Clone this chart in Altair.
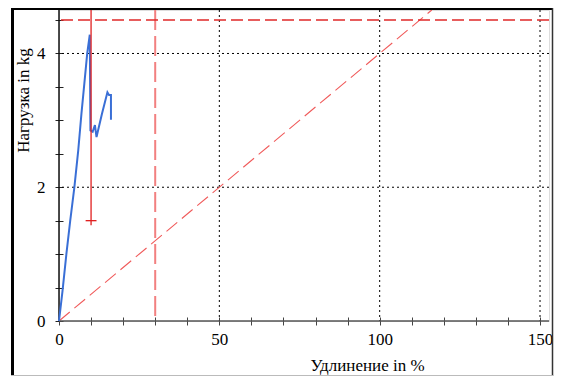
import altair as alt
import pandas as pd

# Measured curve (elongation %, load kg)
curve_x = [0, 1.1, 2.3, 3.5, 4.8, 6.0, 7.0, 7.9, 8.8, 9.6, 9.8, 10.5, 11.2, 11.7, 13.4, 15.1, 15.6, 16.2, 16.2]
curve_y = [0, 0.45, 1.0, 1.5, 2.0, 2.55, 3.1, 3.55, 4.0, 4.28, 2.85, 2.83, 2.93, 2.75, 3.1, 3.42, 3.38, 3.38, 3.01]

x_ticks = list(range(0, 151, 10))
x_labels = [0, 50, 100, 150]
y_ticks = [0, 0.5, 1, 1.5, 2, 2.5, 3, 3.5, 4, 4.5]
y_labels = [0, 2, 4]
grid_x = [50, 100, 150]
grid_y = [2, 4]

x_max = 152.8
y_max = 4.65

limit_load = [4.5]          # horizontal dashed limit
limit_elong = [30]          # vertical dashed limit
diag_x = [0, 116.25]        # reference line (0.04 kg per %)
diag_y = [0, 4.65]
marker_x = [10]             # vertical marker line
marker_y0 = [1.43]
marker_cap_x = [8.3, 11.7]
marker_cap_y = [1.5]

W, H = 490, 311
FONT = "Liberation Serif, Times New Roman, serif"

xs = alt.Scale(domain=[0, x_max], nice=False, zero=False)
ys = alt.Scale(domain=[0, y_max], nice=False, zero=False)

x_axis = alt.Axis(values=x_ticks,
                  labelExpr="datum.value % 50 == 0 ? format(datum.value, 'd') : ''",
                  grid=False, domain=False, offset=-4, tickSize=8, tickColor="#444",
                  labelFont=FONT, labelFontSize=17, labelColor="black", labelPadding=6,
                  labelFlush=False, labelOverlap=False,
                  title="Удлинение in %", titleFont=FONT, titleFontSize=17,
                  titleFontWeight="normal", titleColor="black",
                  titleX=308, titleY=48, titleAlign="center", titleBaseline="middle")
y_axis = alt.Axis(values=y_ticks,
                  labelExpr="datum.value % 2 == 0 ? format(datum.value, 'd') : ''",
                  grid=False, domain=False, offset=-4, tickSize=8, tickColor="#222",
                  labelFont=FONT, labelFontSize=17, labelColor="black", labelPadding=10,
                  labelFlush=False, labelOverlap=False,
                  title="Нагрузка in kg", titleFont=FONT, titleFontSize=17,
                  titleFontWeight="normal", titleColor="black",
                  titleX=-40, titleY=90, titleAngle=270, titleAlign="center", titleBaseline="middle")


def X(field):
    return alt.X(field, type="quantitative", scale=xs, axis=x_axis)


def Y(field):
    return alt.Y(field, type="quantitative", scale=ys, axis=y_axis)


curve = pd.DataFrame({"x": curve_x, "y": curve_y, "i": range(len(curve_x))})

grid_v = alt.Chart(pd.DataFrame({"x": grid_x})).mark_rule(
    color="black", strokeWidth=1, strokeDash=[2, 3]).encode(x=X("x"))
grid_h = alt.Chart(pd.DataFrame({"y": grid_y})).mark_rule(
    color="black", strokeWidth=1, strokeDash=[2, 3]).encode(y=Y("y"))

x_domain = alt.Chart(pd.DataFrame({"y": [0]})).mark_rule(color="#555", strokeWidth=1.5).encode(y=Y("y"))
y_domain = alt.Chart(pd.DataFrame({"x": [0]})).mark_rule(color="#111", strokeWidth=1.5).encode(x=X("x"))

h_limit = alt.Chart(pd.DataFrame({"y": limit_load})).mark_rule(
    color="#e02828", strokeWidth=1.5, strokeDash=[12, 5]).encode(y=Y("y"))
v_limit = alt.Chart(pd.DataFrame({"x": limit_elong})).mark_rule(
    color="#f28080", strokeWidth=2, strokeDash=[20, 6]).encode(x=X("x"))
diag = alt.Chart(pd.DataFrame({"x": diag_x, "y": diag_y})).mark_line(
    color="#f05a5a", strokeWidth=1.1, strokeDash=[14, 6]).encode(x=X("x"), y=Y("y"))

marker = alt.Chart(pd.DataFrame({"x": marker_x, "y": marker_y0, "y2": [y_max]})).mark_rule(
    color="#e02020", strokeWidth=1.3).encode(x=X("x"), y=Y("y"), y2="y2")
cap = alt.Chart(pd.DataFrame({"x": [marker_cap_x[0]], "x2": [marker_cap_x[1]], "y": marker_cap_y})).mark_rule(
    color="#e02020", strokeWidth=1.3).encode(x=X("x"), x2="x2", y=Y("y"))

line = alt.Chart(curve).mark_line(color="#3a6fd6", strokeWidth=2).encode(
    x=X("x"), y=Y("y"), order="i:Q")

one = alt.Data(values=[{"a": 1}])
frame_top = alt.Chart(one).mark_rule(color="black", strokeWidth=3).encode(
    x=alt.value(-48), x2=alt.value(W + 4), y=alt.value(-1.5))
frame_left = alt.Chart(one).mark_rule(color="black", strokeWidth=3).encode(
    x=alt.value(-46.5), y=alt.value(-3), y2=alt.value(H + 55))
frame_right = alt.Chart(one).mark_rule(color="#333", strokeWidth=1.5).encode(
    x=alt.value(W + 3.5), y=alt.value(-3), y2=alt.value(H + 55))
frame_bottom = alt.Chart(one).mark_rule(color="#bbb", strokeWidth=1).encode(
    x=alt.value(-48), x2=alt.value(W + 4), y=alt.value(H + 54.5))

chart = alt.layer(
    grid_v, grid_h, v_limit, diag, h_limit, x_domain, y_domain, line, marker, cap,
    frame_top, frame_left, frame_right, frame_bottom,
).properties(
    width=W, height=H,
    autosize=alt.AutoSizeParams(type="none"),
    padding={"left": 51, "top": 2, "right": 5, "bottom": 55},
).configure_view(stroke=None).configure(background="white")

chart.save("out.html", embed_options={"renderer": "svg", "actions": False})
